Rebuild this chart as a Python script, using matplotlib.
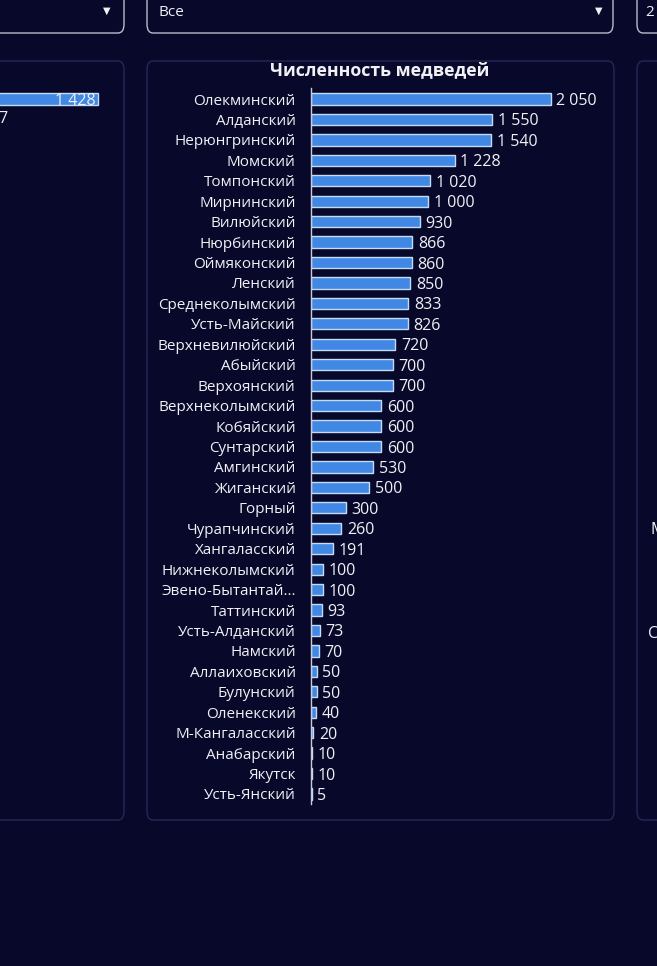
import matplotlib.pyplot as plt
from matplotlib.patches import FancyBboxPatch

plt.rcParams['font.family'] = ['Open Sans', 'DejaVu Sans']

districts = ['Олекминский', 'Алданский', 'Нерюнгринский', 'Момский', 'Томпонский',
             'Мирнинский', 'Вилюйский', 'Нюрбинский', 'Оймяконский', 'Ленский',
             'Среднеколымский', 'Усть-Майский', 'Верхневилюйский', 'Абыйский',
             'Верхоянский', 'Верхнеколымский', 'Кобяйский', 'Сунтарский', 'Амгинский',
             'Жиганский', 'Горный', 'Чурапчинский', 'Хангаласский', 'Нижнеколымский',
             'Эвено-Бытантай...', 'Таттинский', 'Усть-Алданский', 'Намский',
             'Аллаиховский', 'Булунский', 'Оленекский', 'М-Кангаласский', 'Анабарский',
             'Якутск', 'Усть-Янский']
bears = [2050, 1550, 1540, 1228, 1020, 1000, 930, 866, 860, 850, 833, 826, 720, 700,
         700, 600, 600, 600, 530, 500, 300, 260, 191, 100, 100, 93, 73, 70, 50, 50,
         40, 20, 10, 10, 5]
left_vals = [1428]

BG = '#08082a'
PANEL_EDGE = '#262856'
BAR = '#4088e4'
BAR_EDGE = '#c4dbf6'
TXT = '#f0f0f5'

W, H = 657, 966
fig = plt.figure(figsize=(W / 100, H / 100), dpi=100)
fig.patch.set_facecolor(BG)


def px_box(x0, y0, x1, y1, edge, lw=1.0, r=6):
    # pixel coords measured from top-left
    p = FancyBboxPatch((x0 / W, 1 - y1 / H), (x1 - x0) / W, (y1 - y0) / H,
                       boxstyle=f'round,pad=0,rounding_size={r / W}',
                       transform=fig.transFigure, facecolor='none',
                       edgecolor=edge, linewidth=lw)
    fig.patches.append(p)


# dropdowns
px_box(-20, -10, 124, 33, '#b8bccc')
px_box(147, -10, 613, 33, '#b8bccc')
px_box(637, -10, 680, 33, '#b8bccc')
fig.text(158 / W, 1 - 12 / H, 'Все', color=TXT, fontsize=11, va='center')
fig.text(645 / W, 1 - 12 / H, '2', color=TXT, fontsize=11, va='center')
for xt in (107, 599):
    fig.text(xt / W, 1 - 11 / H, '▼', color=TXT, fontsize=7, ha='center', va='center',
             family='DejaVu Sans')

# panels
px_box(-20, 61, 124, 820, PANEL_EDGE)
px_box(147, 61, 614, 820, PANEL_EDGE)
px_box(637, 61, 680, 820, PANEL_EDGE)

# main chart
ax = fig.add_axes([311 / W, (H - 804) / H, 269 / W, 716 / H])
ax.set_facecolor('none')
y = list(range(len(districts)))
ax.barh(y, bears, height=0.55, color=BAR, edgecolor=BAR_EDGE, linewidth=1)
for yi, v in zip(y, bears):
    ax.annotate(f'{v:,}'.replace(',', ' '), (v, yi), xytext=(4, 0),
                textcoords='offset points', va='center_baseline', ha='left',
                color=TXT, fontsize=11.5)
ax.set_xlim(0, 2300)
ax.set_ylim(34.49, -0.54)
ax.set_yticks(y)
ax.set_yticklabels(districts, color=TXT, fontsize=11)
ax.tick_params(axis='y', length=0, pad=11)
ax.set_xticks([])
for s in ('top', 'right', 'bottom'):
    ax.spines[s].set_visible(False)
ax.spines['left'].set_color('#c8cad8')
ax.spines['left'].set_linewidth(1)
fig.text(380 / W, 1 - 70 / H, 'Численность медведей', color=TXT, fontsize=12.8,
         fontweight='bold', ha='center', va='center')

# partial left panel chart
axl = fig.add_axes([-69 / W, (H - 110) / H, 200 / W, 22 / H])
axl.axis('off')
axl.barh([0], left_vals, height=0.55, color=BAR, edgecolor=BAR_EDGE, linewidth=1)
axl.set_xlim(0, 200 / 0.117)
axl.set_ylim(0.5, -0.5)
axl.annotate(f'{left_vals[0]:,}'.replace(',', ' '), (left_vals[0], 0), xytext=(-2, 0),
             textcoords='offset points', va='center_baseline', ha='right', color=TXT,
             fontsize=11.5)
fig.text(-2 / W, 1 - 119 / H, '7', color=TXT, fontsize=11.5, va='center')

# partial right panel labels
fig.text(650 / W, 1 - 530 / H, 'М', color=TXT, fontsize=11.5, va='center')
fig.text(648 / W, 1 - 634 / H, 'С', color=TXT, fontsize=11.5, va='center')

fig.savefig('out.png', dpi=100, facecolor=BG)
